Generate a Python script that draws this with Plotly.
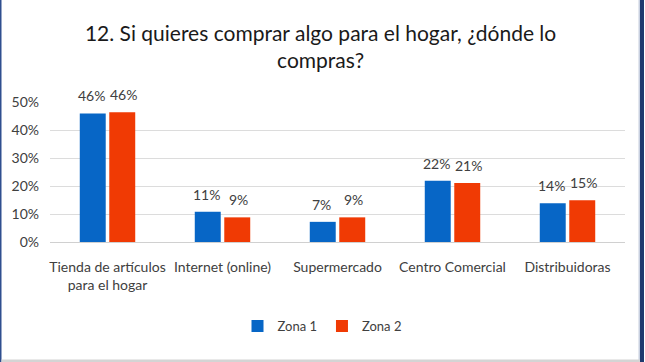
import plotly.graph_objects as go

categories = ["Tienda de artículos<br>para el hogar", "Internet (online)", "Supermercado",
              "Centro Comercial", "Distribuidoras"]
zona1 = [0.459, 0.108, 0.072, 0.219, 0.138]
zona2 = [0.463, 0.088, 0.088, 0.211, 0.149]
series_names = ["Zona 1", "Zona 2"]
title_text = "12. Si quieres comprar algo para el hogar, ¿dónde lo<br>compras?"

W, H = 645, 362
L, R, T, B = 50, 20, 102, 120
PW, PH = W - L - R, H - T - B

def px(x):
    return (x - L) / PW

def py(y):
    return (H - B - y) / PH

FONT = "Lato"
TXT = "#404040"
COLORS = ["#0766C6", "#F03A04"]

fig = go.Figure()
for name, vals, col in [(series_names[0], zona1, COLORS[0]), (series_names[1], zona2, COLORS[1])]:
    fig.add_trace(go.Bar(
        x=categories, y=vals, name=name, marker=dict(color=col, line=dict(width=0)),
    ))

annotations = []
for vals, shift in [(zona1, -16), (zona2, 16)]:
    for c, v in zip(categories, vals):
        annotations.append(dict(x=c, y=v, xref="x", yref="y", text=f"{v:.0%}",
                                showarrow=False, xshift=shift, yshift=7, yanchor="bottom",
                                font=dict(family=FONT, size=14, color=TXT)))

fig.update_layout(
    width=W, height=H,
    margin=dict(l=L, r=R, t=T, b=B, pad=0),
    paper_bgcolor="white", plot_bgcolor="white",
    barmode="group", bargap=0.487, bargroupgap=0.12,
    font=dict(family=FONT, size=14, color=TXT),
    title=dict(text=title_text, x=0.497, xanchor="center", y=1 - 41 / H, yanchor="middle",
               font=dict(family=FONT, size=21, color="#1a1a1a")),
    showlegend=True,
    legend=dict(orientation="h", x=px(322), xanchor="center", y=py(326), yanchor="middle",
                font=dict(family=FONT, size=13, color=TXT), itemwidth=30,
                traceorder="normal"),
    xaxis=dict(showgrid=False, showline=True, linecolor="#D0D0D0", linewidth=1,
               ticks="", ticklabelstandoff=12, tickfont=dict(family=FONT, size=14, color=TXT)),
    yaxis=dict(range=[0, 0.5], dtick=0.1, tickformat=".0%", showgrid=True,
               gridcolor="#DCDCDC", gridwidth=1, zeroline=False, showline=False,
               ticks="", ticklabelstandoff=10,
               tickfont=dict(family=FONT, size=14, color=TXT)),
    annotations=annotations,
)

shapes = [
    dict(type="rect", xref="paper", yref="paper", x0=px(0), x1=px(1.5), y0=py(362), y1=py(0),
         fillcolor="#2F4F8F", line=dict(width=0), layer="above"),
    dict(type="rect", xref="paper", yref="paper", x0=px(640), x1=px(644), y0=py(362), y1=py(0),
         fillcolor="#1F3A6E", line=dict(width=0), layer="above"),
    dict(type="rect", xref="paper", yref="paper", x0=px(638.5), x1=px(640), y0=py(362), y1=py(0),
         fillcolor="#C8D0E0", line=dict(width=0), layer="above"),
    dict(type="rect", xref="paper", yref="paper", x0=px(1.5), x1=px(640), y0=py(362), y1=py(359.5),
         fillcolor="#D4D4D4", line=dict(width=0), layer="above"),
]
fig.update_layout(shapes=shapes)

fig.write_html("out.html")
